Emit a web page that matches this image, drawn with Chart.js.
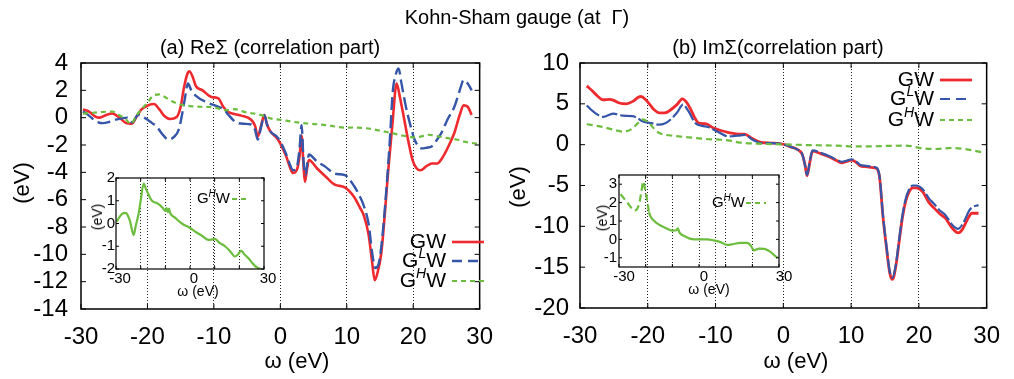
<!DOCTYPE html>
<html>
<head>
<meta charset="utf-8">
<script src="https://cdn.jsdelivr.net/npm/chart.js@4.4.0/dist/chart.umd.min.js"></script>
<style>
  body { margin: 0; background: #fff; }
  #fig { position: relative; width: 1014px; height: 379px; overflow: hidden;
         font-family: "Liberation Sans", Arial, sans-serif; color: #000; }
  #fig canvas { position: absolute; }
  .lbl { position: absolute; transform: translate(-50%, -50%); white-space: nowrap; }
  .rot { transform: translate(-50%, -50%) rotate(-90deg); }
</style>
</head>
<body>
<div id="fig">
  <canvas id="cRe" width="507" height="379" style="left:0;top:0"></canvas>
  <canvas id="cIm" width="507" height="379" style="left:507px;top:0"></canvas>
  <canvas id="cReIn" width="200" height="132" style="left:80px;top:168px"></canvas>
  <canvas id="cImIn" width="215" height="130" style="left:583px;top:164px"></canvas>

  <div class="lbl" style="left:517px;top:17px;font-size:20px">Kohn-Sham gauge (at &nbsp;Γ)</div>
  <div class="lbl" style="left:270px;top:47px;font-size:20px">(a) ReΣ (correlation part)</div>
  <div class="lbl" style="left:778px;top:47px;font-size:20px">(b) ImΣ(correlation part)</div>
  <div class="lbl" style="left:297px;top:361px;font-size:22px">ω (eV)</div>
  <div class="lbl" style="left:796px;top:361px;font-size:22px">ω (eV)</div>
  <div class="lbl rot" style="left:22px;top:183px;font-size:22px">(eV)</div>
  <div class="lbl rot" style="left:518px;top:187px;font-size:22px">(eV)</div>
  <div class="lbl" style="left:198px;top:291px;font-size:14px">ω (eV)</div>
  <div class="lbl" style="left:709px;top:289px;font-size:14px">ω (eV)</div>
  <div class="lbl rot" style="left:97px;top:217px;font-size:14px">(eV)</div>
  <div class="lbl rot" style="left:602px;top:218px;font-size:14px">(eV)</div>
</div>

<script>
// ---- data ----
const seriesNames = ['GW', 'G^LW', 'G^HW'];

// (a) Re Sigma
const omegaReGW = [-29.7,-28.8,-27.9,-27.2,-26.2,-25.3,-24.2,-23.2,-22.4,-21.6,-20.9,-19.9,-19.0,-18.2,-17.4,-16.6,-15.6,-15.0,-14.5,-14.0,-13.7,-13.2,-12.7,-11.7,-10.7,-10.2,-9.3,-8.6,-7.8,-6.8,-5.9,-4.4,-3.8,-3.4,-2.9,-2.4,-2.0,-1.5,-0.5,0.0,0.9,1.5,1.9,2.5,2.9,3.2,3.5,3.7,4.0,4.3,5.5,6.8,8.2,9.7,11.1,12.0,12.6,13.3,13.8,14.2,14.6,15.2,15.7,16.2,16.9,17.5,18.0,18.6,19.3,19.9,20.5,21.1,22.0,22.8,23.6,24.3,25.2,26.2,27.0,27.6,28.2,28.8];
const reGW = [0.6,0.45,0.1,0.0,0.2,0.3,0.0,-0.4,-0.45,0.1,0.6,0.9,1.0,0.6,0.1,-0.1,0.05,0.8,2.2,3.2,3.4,3.0,2.3,2.0,1.6,1.5,1.4,0.8,0.4,0.25,0.15,-0.15,-0.6,-1.4,-0.6,0.2,-0.5,-1.0,-1.5,-1.9,-2.85,-3.7,-4.05,-3.8,-2.8,-1.3,-3.6,-4.7,-3.8,-3.1,-3.7,-4.3,-4.9,-5.1,-5.8,-6.6,-7.2,-8.6,-10.5,-11.9,-11.4,-9.9,-7.2,-4.1,-0.3,2.5,1.5,0.0,-1.8,-3.1,-3.7,-3.85,-3.55,-3.35,-3.35,-3.0,-2.2,-1.1,0.2,0.9,0.8,0.2];

const omegaReGLW = [-29.7,-28.8,-27.8,-26.7,-25.7,-24.8,-23.8,-23.0,-22.3,-21.4,-20.3,-19.3,-18.7,-17.6,-16.8,-16.0,-15.3,-14.8,-14.4,-13.9,-13.4,-12.7,-11.2,-9.3,-8.5,-7.8,-6.8,-5.5,-4.4,-3.8,-3.4,-2.9,-2.4,-2.0,-1.5,-0.5,0.0,0.9,1.5,1.9,2.5,2.9,3.2,3.5,3.8,4.1,4.3,5.5,6.8,8.2,9.7,11.1,12.0,12.6,13.3,13.8,14.3,14.8,15.4,16.0,16.5,16.9,17.4,17.8,18.2,18.9,19.6,20.2,20.8,21.3,22.0,22.8,23.6,24.2,25.2,26.2,27.0,27.6,28.2,28.8];
const reGLW = [0.45,0.15,-0.25,-0.4,-0.3,-0.15,-0.05,0.0,-0.35,0.2,-0.05,-0.4,-0.6,-1.3,-1.6,-1.4,-0.9,0.2,1.3,2.5,2.0,1.6,1.15,0.8,0.6,0.2,-0.3,-0.45,-0.5,-0.9,-1.6,-0.7,0.2,-0.5,-1.0,-1.4,-1.75,-2.7,-3.5,-3.85,-3.6,-2.2,-0.55,-3.2,-4.2,-3.2,-2.7,-3.2,-3.6,-4.1,-4.2,-5.0,-5.8,-6.5,-7.8,-9.8,-11.0,-10.7,-8.5,-5.0,-1.5,1.8,3.2,3.6,2.6,0.8,-0.6,-1.6,-2.1,-2.25,-2.2,-2.1,-1.6,-1.15,-0.1,0.8,2.0,2.75,2.5,2.0];

const omegaReGHW = [-29.7,-28.5,-27.2,-25.3,-24.3,-23.3,-22.5,-21.6,-20.9,-20.0,-19.0,-18.2,-17.5,-16.5,-15.6,-14.5,-13.6,-12.0,-10.7,-9.5,-8.5,-7.8,-6.8,-6.0,-4.8,-3.9,-2.6,-1.5,0.0,1.9,3.5,4.8,7.0,9.7,11.0,12.6,14.0,15.5,17.0,17.9,19.0,20.2,21.0,22.3,23.5,25.2,26.5,28.1,29.6];
const reGHW = [0.3,0.35,0.4,0.45,0.2,-0.1,-0.45,0.2,0.6,1.1,1.65,1.7,1.55,1.25,1.05,0.9,0.85,0.8,0.78,0.7,0.55,0.55,0.62,0.5,0.35,0.3,0.15,-0.05,-0.15,-0.3,-0.4,-0.45,-0.55,-0.73,-0.72,-0.76,-0.85,-1.0,-1.15,-1.27,-1.35,-1.45,-1.4,-1.25,-1.35,-1.5,-1.6,-1.8,-1.9];

// (a) inset: G^H W alone
const omegaReInset = [-29.7,-28.5,-27.2,-26.0,-25.0,-24.3,-23.5,-22.8,-22.0,-20.8,-20.0,-18.8,-17.8,-16.9,-15.8,-14.8,-13.5,-12.1,-10.8,-10.0,-9.5,-9.0,-8.5,-8.0,-6.0,-3.3,0.0,2.1,5.0,7.5,9.0,10.1,12.0,14.2,16.5,18.2,19.5,20.7,22.0,23.6,25.0,26.2,27.5,28.6];
const reInsetGHW = [0.08,0.3,0.45,0.47,0.3,0.1,-0.3,-0.5,-0.1,0.45,1.0,1.75,1.5,1.3,1.05,0.95,0.9,0.8,0.65,0.55,0.68,0.5,0.65,0.45,0.25,0.0,-0.2,-0.36,-0.55,-0.72,-0.7,-0.68,-0.85,-1.0,-1.25,-1.45,-1.35,-1.19,-1.35,-1.52,-1.7,-1.85,-1.95,-2.0];

// (b) Im Sigma
const omegaImGW = [-29.0,-28.2,-27.6,-26.6,-25.6,-25.1,-24.2,-23.2,-22.2,-21.4,-21.0,-20.3,-19.6,-19.1,-18.3,-17.5,-16.9,-15.7,-14.9,-14.2,-13.6,-13.2,-12.5,-11.5,-10.3,-9.1,-8.2,-7.6,-6.7,-5.7,-4.7,-3.3,-1.8,0.0,1.2,2.1,2.8,3.2,3.5,3.9,4.3,5.5,6.9,8.0,8.6,9.4,10.1,10.8,11.3,12.2,13.2,13.8,14.2,14.7,15.2,15.7,16.1,16.6,17.1,17.6,18.1,18.6,19.1,19.6,20.5,21.5,22.3,23.0,23.9,24.9,25.8,26.4,26.9,27.4,27.8,28.8];
const imGW = [7.2,6.6,6.1,5.5,5.55,5.45,5.1,5.0,5.3,5.8,5.9,5.5,4.8,4.3,3.9,3.9,4.1,4.9,5.6,5.1,4.2,3.5,2.65,2.57,2.04,1.7,1.5,1.4,1.3,1.3,0.82,0.29,0.2,0.05,-0.3,-0.6,-1.2,-2.5,-3.8,-2.2,-0.8,-1.1,-1.55,-2.0,-2.24,-2.05,-1.9,-2.2,-2.57,-2.7,-2.8,-2.95,-4.0,-8.8,-12.5,-15.7,-16.5,-14.9,-11.8,-8.8,-6.8,-5.7,-5.3,-5.3,-5.7,-7.1,-7.8,-8.4,-9.0,-10.2,-10.8,-10.4,-9.6,-8.8,-8.4,-8.4];

const omegaImGLW = [-29.0,-28.4,-27.8,-26.6,-25.1,-23.7,-22.2,-21.4,-20.8,-19.3,-18.3,-17.5,-16.9,-15.7,-14.8,-14.0,-13.0,-12.0,-11.1,-9.6,-8.1,-7.4,-6.7,-5.7,-4.5,-3.3,-1.8,0.0,1.2,2.1,2.8,3.2,3.5,3.9,4.3,5.5,6.9,8.0,8.6,9.4,10.1,10.8,11.3,12.2,13.2,13.8,14.2,14.7,15.2,15.7,16.1,16.6,17.1,17.6,18.1,18.6,19.1,19.6,20.5,21.5,22.3,23.0,23.9,24.9,25.8,26.4,26.9,27.4,27.8,28.8];
const imGLW = [4.8,4.3,3.9,3.4,3.8,3.55,3.5,3.2,2.86,2.6,2.45,2.6,2.9,3.9,4.9,4.1,2.65,2.3,2.16,1.55,1.0,1.05,1.1,1.2,0.6,0.2,0.2,0.05,-0.3,-0.6,-1.2,-2.5,-3.7,-2.1,-0.7,-1.0,-1.45,-1.9,-2.1,-1.95,-1.8,-2.1,-2.45,-2.6,-2.7,-2.85,-3.9,-8.6,-12.3,-15.5,-16.3,-14.7,-11.5,-8.5,-6.5,-5.4,-5.0,-5.0,-5.4,-6.6,-7.3,-8.0,-8.6,-9.8,-10.3,-9.8,-9.0,-8.1,-7.7,-7.4];

const omegaImGHW = [-29.0,-27.1,-25.1,-23.7,-22.9,-22.2,-21.5,-20.8,-19.8,-19.0,-18.3,-16.4,-14.0,-11.5,-9.1,-7.9,-6.7,-3.8,0.0,3.0,7.9,9.8,12.8,15.5,17.6,19.0,20.1,22.5,24.9,27.3,29.3];
const imGHW = [2.5,2.24,1.84,1.6,1.7,2.04,2.6,3.1,2.65,1.9,1.43,1.1,0.9,0.7,0.6,0.5,0.29,0.12,0.04,-0.04,-0.12,-0.2,-0.2,-0.15,-0.12,-0.2,-0.4,-0.53,-0.4,-0.6,-0.94];

// (b) inset: G^H W alone
const omegaImInset = [-29.4,-28.0,-26.9,-25.3,-24.1,-22.5,-21.6,-20.9,-20.2,-19.4,-18.75,-16.9,-15.0,-13.1,-11.5,-10.0,-8.5,-7.9,-7.4,-6.9,-5.0,-3.1,0.0,3.1,5.5,8.1,10.6,13.0,15.6,18.1,19.5,20.6,22.5,24.4,26.9,28.5,29.4];
const imInsetGHW = [2.46,2.2,2.0,1.7,1.56,1.9,2.6,3.15,2.7,2.1,1.47,1.02,0.8,0.66,0.55,0.48,0.5,0.6,0.4,0.3,0.15,0.03,0.0,0.0,-0.05,-0.15,-0.3,-0.25,-0.19,-0.19,-0.35,-0.6,-0.5,-0.51,-0.69,-0.9,-1.0];

// ticks
const xTicksMain = [-30, -20, -10, 0, 10, 20, 30];
const yTicksRe = [-14, -12, -10, -8, -6, -4, -2, 0, 2, 4];
const yTicksIm = [-20, -15, -10, -5, 0, 5, 10];
const xTicksInset = [-30, -20, -10, 0, 10, 20, 30];
const xLabelsInset = [-30, 0, 30];
const yTicksReInset = [-2, -1, 0, 1, 2];
const yTicksImInset = [-1, 0, 1, 2, 3];

// ---- styling ----
const RED = '#ee2a2e', BLUE = '#3556a8', GREEN = '#6cbd3e';
const FONT = '"Liberation Sans", Arial, sans-serif';
Chart.defaults.font.family = FONT;
Chart.defaults.color = '#000';

function series(label, xs, ys, color, dash, width, order) {
  return {
    label: label,
    data: xs.map((x, i) => ({ x: x, y: ys[i] })),
    borderColor: color,
    borderWidth: width,
    borderDash: dash,
    pointRadius: 0,
    fill: false,
    cubicInterpolationMode: 'monotone',
    order: order
  };
}

// frame around the plot with small inward ticks, like gnuplot
const framePlugin = {
  id: 'frame',
  afterDatasetsDraw(chart, args, opts) {
    const { ctx, chartArea: a, scales } = chart;
    const len = opts.tick || 5;
    ctx.save();
    ctx.strokeStyle = '#000';
    ctx.lineWidth = 1;
    ctx.setLineDash([]);
    ctx.beginPath();
    scales.y.ticks.forEach(t => {
      const y = scales.y.getPixelForValue(t.value);
      ctx.moveTo(a.left, y); ctx.lineTo(a.left + len, y);
      ctx.moveTo(a.right, y); ctx.lineTo(a.right - len, y);
    });
    scales.x.ticks.forEach(t => {
      const x = scales.x.getPixelForValue(t.value);
      ctx.moveTo(x, a.bottom); ctx.lineTo(x, a.bottom - len);
      ctx.moveTo(x, a.top); ctx.lineTo(x, a.top + len);
    });
    ctx.stroke();
    ctx.lineWidth = opts.width || 1.5;
    ctx.strokeRect(a.left, a.top, a.right - a.left, a.bottom - a.top);
    ctx.restore();
  }
};

// draws "G^LW" with the letter after ^ as italic superscript, right aligned
function drawName(ctx, name, right, y, size) {
  const parts = [];
  for (let i = 0; i < name.length; i++) {
    if (name[i] === '^') { parts.push({ t: name[i + 1], sup: true }); i++; }
    else parts.push({ t: name[i], sup: false });
  }
  const font = p => p.sup ? `italic ${Math.round(size * 0.68)}px ${FONT}` : `${size}px ${FONT}`;
  let total = 0;
  parts.forEach(p => { ctx.font = font(p); p.w = ctx.measureText(p.t).width; total += p.w; });
  let x = right - total;
  ctx.fillStyle = '#000';
  ctx.textBaseline = 'middle';
  ctx.textAlign = 'left';
  parts.forEach(p => {
    ctx.font = font(p);
    ctx.fillText(p.t, x, p.sup ? y - size * 0.35 : y);
    x += p.w;
  });
}

const keyPlugin = {
  id: 'key',
  afterDatasetsDraw(chart, args, opts) {
    if (!opts.rows) return;
    const ctx = chart.ctx;
    ctx.save();
    opts.rows.forEach(row => {
      const ds = chart.data.datasets[row.index];
      drawName(ctx, ds.label, opts.textRight, row.y, opts.size);
      ctx.strokeStyle = ds.borderColor;
      ctx.lineWidth = ds.borderWidth;
      ctx.setLineDash(opts.dash ? opts.dash[row.index] : (ds.borderDash || []));
      ctx.beginPath();
      ctx.moveTo(opts.x1, row.y);
      ctx.lineTo(opts.x2, row.y);
      ctx.stroke();
    });
    ctx.restore();
  }
};

function xAxis(ticks, fontSize, pad, height, labelsShown, labelOffset) {
  return {
    type: 'linear', min: -30, max: 30,
    afterBuildTicks: s => { s.ticks = ticks.map(v => ({ value: v })); },
    afterFit: s => { s.height = height; },
    ticks: {
      font: { size: fontSize }, padding: pad, maxRotation: 0, autoSkip: false,
      labelOffset: labelOffset || 0,
      callback: v => (!labelsShown || labelsShown.includes(v)) ? String(v) : ''
    },
    grid: {
      drawTicks: false, lineWidth: 1,
      color: c => (c.tick && Math.abs(c.tick.value) < 30) ? '#222' : 'rgba(0,0,0,0)'
    },
    border: { display: false, dash: [1, 2] }
  };
}

function yAxis(min, max, ticks, fontSize, pad, width) {
  return {
    type: 'linear', min: min, max: max,
    afterBuildTicks: s => { s.ticks = ticks.map(v => ({ value: v })); },
    afterFit: s => { s.width = width; },
    ticks: { font: { size: fontSize }, padding: pad, autoSkip: false, callback: v => String(v) },
    grid: { display: false, drawTicks: false },
    border: { display: false }
  };
}

function baseOptions(padding, scales, plugins) {
  return {
    responsive: false,
    animation: false,
    events: [],
    layout: { padding: padding },
    scales: scales,
    plugins: Object.assign({ legend: { display: false }, tooltip: { enabled: false } }, plugins)
  };
}

// (a) main
new Chart(document.getElementById('cRe'), {
  type: 'line',
  data: { datasets: [
    series(seriesNames[0], omegaReGW, reGW, RED, [], 2.6, 3),
    series(seriesNames[1], omegaReGLW, reGLW, BLUE, [13, 5], 2.4, 2),
    series(seriesNames[2], omegaReGHW, reGHW, GREEN, [5, 4], 2.2, 1)
  ] },
  options: baseOptions({ left: 0, right: 14, top: 63, bottom: 0 }, {
    x: xAxis(xTicksMain, 24, 14, 70),
    y: yAxis(-14, 4, yTicksRe, 24, 13, 81)
  }, {
    frame: { tick: 5, width: 1.5 },
    key: { textRight: 446, x1: 452, x2: 484, size: 21, dash: [[], [10, 6], [5, 4]],
           rows: [{ index: 0, y: 242 }, { index: 1, y: 261 }, { index: 2, y: 281 }] }
  }),
  plugins: [framePlugin, keyPlugin]
});

// (b) main
new Chart(document.getElementById('cIm'), {
  type: 'line',
  data: { datasets: [
    series(seriesNames[0], omegaImGW, imGW, RED, [], 2.8, 3),
    series(seriesNames[1], omegaImGLW, imGLW, BLUE, [16, 3], 2.2, 2),
    series(seriesNames[2], omegaImGHW, imGHW, GREEN, [6, 4], 2.2, 1)
  ] },
  options: baseOptions({ left: 0, right: 22, top: 63, bottom: 0 }, {
    x: xAxis(xTicksMain, 24, 14, 71),
    y: yAxis(-20, 10, yTicksIm, 24, 11, 73)
  }, {
    frame: { tick: 5, width: 1.5 },
    key: { textRight: 427, x1: 433, x2: 465, size: 21, dash: [[], [10, 6], [5, 4]],
           rows: [{ index: 0, y: 80 }, { index: 1, y: 99 }, { index: 2, y: 120 }] }
  }),
  plugins: [framePlugin, keyPlugin]
});

// (a) inset
new Chart(document.getElementById('cReIn'), {
  type: 'line',
  data: { datasets: [
    series(seriesNames[2], omegaReInset, reInsetGHW, GREEN, [], 2.2, 1)
  ] },
  options: baseOptions({ left: 0, right: 16, top: 10, bottom: 0 }, {
    x: xAxis(xTicksInset, 15, 1, 31, xLabelsInset, 4),
    y: yAxis(-2, 2, yTicksReInset, 15, 1, 36)
  }, {
    frame: { tick: 3, width: 1.2 },
    key: { textRight: 150, x1: 152, x2: 170, size: 15, dash: [[5, 4]],
           rows: [{ index: 0, y: 31 }] }
  }),
  plugins: [framePlugin, keyPlugin]
});

// (b) inset
const imInset = series(seriesNames[2], omegaImInset, imInsetGHW, GREEN, [], 2.2, 1);
imInset.segment = { borderDash: c => c.p0.parsed.x < -19 ? [7, 4] : undefined };
new Chart(document.getElementById('cImIn'), {
  type: 'line',
  data: { datasets: [imInset] },
  options: baseOptions({ left: 0, right: 19, top: 10, bottom: 0 }, {
    x: xAxis(xTicksInset, 15, 1, 27, xLabelsInset, 5),
    y: yAxis(-1.5, 3.5, yTicksImInset, 15, 2, 36)
  }, {
    frame: { tick: 3, width: 1.2 },
    key: { textRight: 162, x1: 163, x2: 183, size: 15, dash: [[5, 4]],
           rows: [{ index: 0, y: 39 }] }
  }),
  plugins: [framePlugin, keyPlugin]
});
</script>
</body>
</html>
